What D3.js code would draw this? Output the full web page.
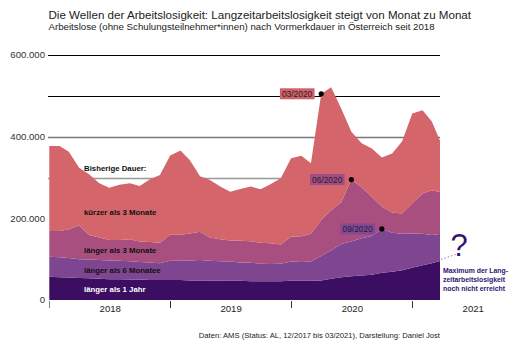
<!DOCTYPE html>
<html><head><meta charset="utf-8">
<script src="https://cdn.jsdelivr.net/npm/d3@7"></script>
<style>
html,body{margin:0;padding:0;background:#fff;}
svg{display:block;font-family:"Liberation Sans",Arial,sans-serif;}
</style></head>
<body><svg id="c" width="512" height="341"></svg>
<script>
const months = ["12/2017","01/2018","02/2018","03/2018","04/2018","05/2018","06/2018","07/2018","08/2018","09/2018","10/2018","11/2018",
"12/2018","01/2019","02/2019","03/2019","04/2019","05/2019","06/2019","07/2019","08/2019","09/2019","10/2019","11/2019",
"12/2019","01/2020","02/2020","03/2020","04/2020","05/2020","06/2020","07/2020","08/2020","09/2020","10/2020","11/2020",
"12/2020","01/2021","02/2021","03/2021"];
// thousands of unemployed by duration of registration
const under3 = [208,208,190,141,149,133,128,135,137,136,154,166,194,206,180,136,141,129,119,127,134,131,145,162,192,197,173,309,301,228,117,108,118,120,145,176,220,204,168,115];
const m3to6  = [63,64,70,83,60,55,50,51,54,50,50,50,64,64,66,69,57,54,52,53,53,51,51,47,61,63,68,88,98,103,152,125,96,55,49,50,74,99,110,101];
const m6to12 = [49,49,48,46,46,46,46,45,45,43,43,41,47,47,49,50,48,48,47,45,45,43,42,43,47,46,47,60,70,81,85,91,95,107,96,89,84,77,69,65];
const over12 = [57,56,55,54,53,52,51,51,50,50,49,49,49,49,48,48,48,47,47,47,46,46,46,46,47,47,47,48,52,56,58,60,62,67,69,73,79,85,90,97];
const seriesKeys = ["over12","m6to12","m3to6","under3"];
const seriesLabels = ["länger als 1 Jahr","länger als 6 Monatee","länger als 3 Monate","kürzer als 3 Monate"];
const yTicks = [0,200000,400000,600000];
const gridValues = [300000,400000,500000,600000];
const years = [2018,2019,2020,2021];
const highlights = [
  {month:"03/2020", level:"total"},
  {month:"06/2020", level:"m3to6"},
  {month:"09/2020", level:"m6to12"}
];

const colors = {under3:"#d4656b", m3to6:"#a84f80", m6to12:"#7e4590", over12:"#3c0e62"};
const boxColors = {total:"#d0616a", m3to6:"#a24d88", m6to12:"#844898"};

const parse = d3.timeParse("%m/%Y");
const rows = months.map((m,i)=>({
  month:m,
  date:d3.timeMonth.offset(parse(m),1),
  under3:under3[i]*1000, m3to6:m3to6[i]*1000, m6to12:m6to12[i]*1000, over12:over12[i]*1000
}));

const svg = d3.select("#c");
const x = d3.scaleTime().domain([new Date(2018,0,1), new Date(2021,0,1)]).range([49.3,412.3]);
const y = d3.scaleLinear().domain([0,600000]).range([300,55]);
const plotL = 48, plotR = 440;

svg.append("defs").append("clipPath").attr("id","clip")
  .append("rect").attr("x",plotL).attr("y",0).attr("width",plotR-plotL).attr("height",301);

// title
svg.append("text").attr("x",48.5).attr("y",18.5).attr("font-size",11.6).attr("fill","#222")
  .text("Die Wellen der Arbeitslosigkeit: Langzeitarbeitslosigkeit steigt von Monat zu Monat");
svg.append("text").attr("x",48.5).attr("y",29.5).attr("font-size",9.7).attr("fill","#222")
  .text("Arbeitslose (ohne Schulungsteilnehmer*innen) nach Vormerkdauer in Österreich seit 2018");

// gridlines
svg.append("g").selectAll("line").data(gridValues).join("line")
  .attr("x1",plotL).attr("x2",plotR)
  .attr("y1",d=>Math.round(y(d))+0.5).attr("y2",d=>Math.round(y(d))+0.5)
  .attr("stroke",d=>d>=500000?"#000":(d===400000?"#777":"#999"))
  .attr("stroke-width",d=>d>=500000?1:1.4);

// y axis labels
const fmt = v => d3.format(",")(v).replace(/,/g,".");
svg.append("g").selectAll("text").data(yTicks).join("text")
  .attr("x",45).attr("y",d=>y(d)+3.3).attr("text-anchor","end")
  .attr("font-size",9.6).attr("fill","#333").text(fmt);

// stack
const stack = d3.stack().keys(seriesKeys);
const stacked = stack(rows);
const area = d3.area().x(d=>x(d.data.date)).y0(d=>y(d[0])).y1(d=>y(d[1]));
svg.append("g").attr("clip-path","url(#clip)").selectAll("path").data(stacked).join("path")
  .attr("d",area).attr("fill",d=>colors[d.key]);

// x axis
const xAxis = svg.append("g");
xAxis.selectAll("line").data(years.map(yr=>new Date(yr,0,1))).join("line")
  .attr("x1",d=>Math.round(x(d))+0.5).attr("x2",d=>Math.round(x(d))+0.5)
  .attr("y1",301).attr("y2",308).attr("stroke",(d,i)=>i===0?"#888":"#333").attr("stroke-width",1);
xAxis.selectAll("text").data(years).join("text")
  .attr("x",d=>x(new Date(d,6,4))).attr("y",311.5).attr("text-anchor","middle")
  .attr("font-size",9.6).attr("fill","#222").text(d=>d);

// layer labels
const lab = svg.append("g").attr("font-weight","bold").attr("font-size",7.8);
lab.append("text").attr("x",84).attr("y",170.5).attr("fill","#111").text("Bisherige Dauer:");
const labY = {under3:214.5, m3to6:253, m6to12:273, over12:291.5};
seriesKeys.forEach((k,i)=>{
  lab.append("text").attr("x",84).attr("y",labY[k])
    .attr("fill",k==="over12"?"#fff":"#111").text(seriesLabels[i]);
});

// highlights
const hl = svg.append("g");
highlights.forEach(h=>{
  const idx = months.indexOf(h.month);
  const st = h.level==="total"?stacked[3]:(h.level==="m3to6"?stacked[2]:stacked[1]);
  const px = x(rows[idx].date), py = y(st[idx][1]);
  const t = hl.append("text").attr("x",px-9).attr("y",py+3).attr("text-anchor","end")
    .attr("font-size",8.4).attr("fill","#222").text(h.month);
  const bb = t.node().getBBox();
  hl.insert("rect","text").attr("x",bb.x-2).attr("y",py-5.5).attr("width",bb.width+4).attr("height",11)
    .attr("fill",boxColors[h.level]);
  hl.append("circle").attr("cx",px).attr("cy",py).attr("r",2.6).attr("fill","#000");
});

// annotation
const last = rows.length-1;
const ann = svg.append("g");
ann.append("line").attr("x1",plotR+1).attr("y1",y(stacked[0][last][1])-1).attr("x2",457).attr("y2",254)
  .attr("stroke","#8a7fa6").attr("stroke-width",1).attr("stroke-dasharray","1.5,2");
ann.append("text").attr("x",459).attr("y",255.5).attr("text-anchor","middle").attr("font-size",31)
  .attr("fill","#2c1670").text("?");
const annLines = ["Maximum der Lang-","zeitarbeitslosigkeit","noch nicht erreicht"];
ann.selectAll("text.a").data(annLines).join("text").attr("class","a")
  .attr("x",443).attr("y",(d,i)=>273+i*9.2).attr("font-size",6.9).attr("font-weight","bold")
  .attr("fill","#2c1670").text(d=>d);

// footer
svg.append("text").attr("x",440).attr("y",338).attr("text-anchor","end").attr("font-size",7.65)
  .attr("fill","#222").text("Daten: AMS (Status: AL, 12/2017 bis 03/2021), Darstellung: Daniel Jost");
</script></body></html>
